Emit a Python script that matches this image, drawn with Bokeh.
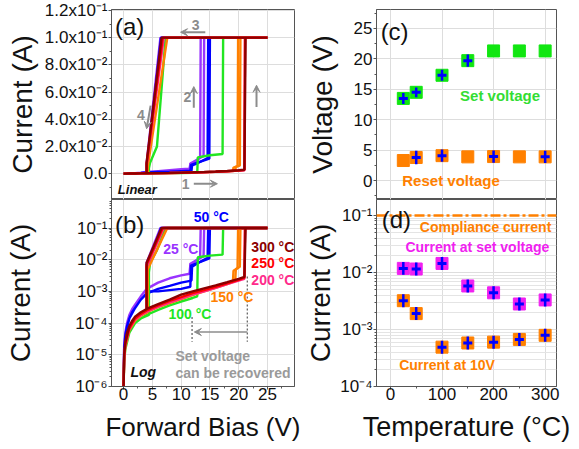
import math
from bokeh.plotting import figure
from bokeh.layouts import row, column
from bokeh.models import Range1d, FixedTicker, Label, Arrow, VeeHead, Span
from bokeh.embed import file_html
from bokeh.resources import INLINE

# ------------------------------------------------------------------ data
# I-V sweeps (forward: low state -> set -> compliance, then reverse sweep back)
V25 = [0, 0.1, 0.3, 0.6, 1.0, 1.5, 2.0, 3.0, 4.0, 6.0, 8.0, 10.0, 11.5, 11.6, 12.5, 13.3, 13.4, 25.0, 6.4, 4.0, 4.0, 3.0, 2.0, 1.0, 0.3, 0.1, 0.0]
I25 = [1e-6, 2e-5, 5e-5, 1e-4, 1.8e-4, 2.8e-4, 3.8e-4, 7e-4, 1.2e-3, 1.9e-3, 2.6e-3, 3.2e-3, 3.6e-3, 7e-3, 9e-3, 1.2e-2, 0.1, 0.1, 0.1, 8e-3, 1.2e-3, 7e-4, 3.8e-4, 1.8e-4, 5e-5, 2e-5, 1e-6]
V25b = [11.5, 11.6, 13.9, 14.0, 25.0]
I25b = [3.4e-3, 7.5e-3, 1.3e-2, 0.1, 0.1]

V50 = [0, 0.1, 0.3, 0.6, 1.0, 1.5, 2.0, 3.0, 4.0, 6.0, 8.0, 10.0, 11.8, 11.9, 13.0, 14.6, 14.7, 25.0, 6.5, 4.1, 4.1, 3.0, 2.0, 1.0, 0.3, 0.1, 0.0]
I50 = [1e-6, 1.5e-5, 4e-5, 8e-5, 1.4e-4, 2.2e-4, 3e-4, 5.5e-4, 8.5e-4, 1.2e-3, 1.5e-3, 1.9e-3, 2.2e-3, 6e-3, 8e-3, 1.15e-2, 0.1, 0.1, 0.1, 6e-3, 9e-4, 5.5e-4, 3e-4, 1.4e-4, 4e-5, 1.5e-5, 1e-6]
V50b = [4.0, 6.0, 8.0, 10.0, 11.6, 11.7, 14.9, 15.0, 25.0]
I50b = [1.0e-3, 1.0e-3, 1.1e-3, 1.2e-3, 1.4e-3, 6.5e-3, 1.1e-2, 0.1, 0.1]

V100 = [0, 0.1, 0.3, 0.6, 1.0, 1.5, 2.0, 3.0, 4.0, 6.0, 8.0, 10.0, 12.0, 12.8, 12.9, 15.0, 17.2, 17.3, 25.0, 7.3, 5.8, 4.6, 4.4, 4.4, 3.0, 2.0, 1.0, 0.3, 0.1, 0.0]
I100 = [1e-6, 6e-6, 1.5e-5, 3e-5, 5e-5, 7.5e-5, 1e-4, 1.4e-4, 1.8e-4, 2.6e-4, 3.6e-4, 4.8e-4, 6.2e-4, 7e-4, 1.2e-2, 1.35e-2, 1.45e-2, 0.1, 0.1, 0.1, 0.02, 0.008, 0.004, 1.8e-4, 1.4e-4, 1e-4, 5e-5, 1.5e-5, 6e-6, 1e-6]

V150 = [0, 0.1, 0.3, 0.6, 1.0, 1.5, 2.0, 3.0, 4.0, 6.0, 8.0, 10.0, 12.0, 14.0, 16.0, 18.0, 19.4, 19.5, 19.8, 19.9, 25.0, 7.6, 4.2, 4.2, 3.0, 2.0, 1.0, 0.3, 0.1, 0.0]
I150 = [1e-6, 7e-6, 1.8e-5, 3.6e-5, 6e-5, 9e-5, 1.2e-4, 1.7e-4, 2.2e-4, 3.2e-4, 4.3e-4, 5.7e-4, 7.6e-4, 1.0e-3, 1.3e-3, 1.7e-3, 2.1e-3, 5e-3, 5.5e-3, 0.1, 0.1, 0.1, 5e-3, 2.2e-4, 1.7e-4, 1.2e-4, 6e-5, 1.8e-5, 7e-6, 1e-6]
V150b = [19.0, 19.1, 20.2, 20.3, 25.0]
I150b = [2.0e-3, 4.5e-3, 6e-3, 0.1, 0.1]

V200 = [0, 0.1, 0.3, 0.6, 1.0, 1.5, 2.0, 3.0, 4.0, 6.0, 8.0, 10.0, 12.0, 14.0, 16.0, 18.0, 20.0, 21.0, 21.1, 25.0, 7.0, 4.0, 4.0, 3.0, 2.0, 1.0, 0.3, 0.1, 0.0]
I200 = [1e-6, 8e-6, 2e-5, 4e-5, 6.5e-5, 9.5e-5, 1.3e-4, 1.8e-4, 2.3e-4, 3.3e-4, 4.5e-4, 5.9e-4, 8e-4, 1.0e-3, 1.3e-3, 1.7e-3, 2.2e-3, 2.5e-3, 0.1, 0.1, 0.1, 6e-3, 2.3e-4, 1.8e-4, 1.3e-4, 6.5e-5, 2e-5, 8e-6, 1e-6]

V250 = [0, 0.1, 0.3, 0.6, 1.0, 1.5, 2.0, 3.0, 4.0, 6.0, 8.0, 10.0, 12.0, 14.0, 16.0, 18.0, 20.0, 21.0, 21.1, 25.0, 6.8, 4.0, 4.0, 3.0, 2.0, 1.0, 0.3, 0.1, 0.0]
I250 = [1e-6, 9e-6, 2.2e-5, 4.5e-5, 7e-5, 1.05e-4, 1.4e-4, 1.95e-4, 2.5e-4, 3.6e-4, 5e-4, 6.6e-4, 8.8e-4, 1.1e-3, 1.4e-3, 1.8e-3, 2.3e-3, 2.7e-3, 0.1, 0.1, 0.1, 7e-3, 2.5e-4, 1.95e-4, 1.4e-4, 7e-5, 2.2e-5, 9e-6, 1e-6]

V300 = [0, 0.1, 0.3, 0.6, 1.0, 1.5, 2.0, 3.0, 4.0, 6.0, 8.0, 10.0, 12.0, 14.0, 16.0, 18.0, 20.0, 21.0, 21.2, 25.0, 6.6, 4.0, 4.0, 3.0, 2.0, 1.0, 0.3, 0.1, 0.0]
I300 = [1e-6, 1e-5, 2.5e-5, 5e-5, 8e-5, 1.2e-4, 1.6e-4, 2.2e-4, 2.8e-4, 4e-4, 5.5e-4, 7.9e-4, 1.0e-3, 1.25e-3, 1.55e-3, 1.95e-3, 2.5e-3, 2.9e-3, 0.1, 0.1, 0.1, 8e-3, 2.8e-4, 2.2e-4, 1.6e-4, 8e-5, 2.5e-5, 1e-5, 1e-6]

# panel (c): set / reset voltage vs temperature
temps = [25, 50, 100, 150, 200, 250, 300]
set_voltage = [13.5, 14.5, 17.3, 19.7, 21.3, 21.3, 21.3]
reset_voltage = [3.3, 3.8, 4.1, 3.9, 3.95, 3.9, 3.9]
set_err_T = [25, 50, 100, 150]
set_err_V = [13.5, 14.5, 17.3, 19.7]
set_err = [0.9, 0.8, 0.9, 1.0]
reset_err_T = [50, 100, 200, 300]
reset_err_V = [3.8, 4.1, 3.95, 3.9]
reset_err = [1.1, 1.0, 1.0, 1.0]

# panel (d): currents vs temperature
i_set = [1.18e-2, 1.15e-2, 1.44e-2, 5.8e-3, 4.4e-3, 2.8e-3, 3.3e-3]
i_10v = [3.2e-3, 1.9e-3, 4.9e-4, 5.8e-4, 6.0e-4, 6.7e-4, 7.9e-4]
i_set_err = [0.3, 0.3, 0.3, 0.3, 0.3, 0.3, 0.3]
i_10v_err = [0.3, 0.3, 0.3, 0.3, 0.3, 0.3, 0.3]
compliance = 0.1

# ticks
bias_ticks = [0, 5, 10, 15, 20, 25]
lin_ticks = [0.0, 0.02, 0.04, 0.06, 0.08, 0.1, 0.12]
lin_labels = ["0.0", "2.0x10\u207b\u00b2", "4.0x10\u207b\u00b2", "6.0x10\u207b\u00b2",
              "8.0x10\u207b\u00b2", "1.0x10\u207b\u00b9", "1.2x10\u207b\u00b9"]
logb_ticks = [1e-6, 1e-5, 1e-4, 1e-3, 1e-2, 1e-1]
logb_labels = ["10\u207b\u2076", "10\u207b\u2075", "10\u207b\u2074", "10\u207b\u00b3", "10\u207b\u00b2", "10\u207b\u00b9"]
volt_ticks = [0, 5, 10, 15, 20, 25]
temp_ticks = [0, 100, 200, 300]
logd_ticks = [1e-4, 1e-3, 1e-2, 1e-1]
logd_labels = ["10\u207b\u2074", "10\u207b\u00b3", "10\u207b\u00b2", "10\u207b\u00b9"]

# ------------------------------------------------------------------ style
FONT = "Liberation Sans"
C25, C50, C100, C150, C200, C250, C300 = "#9933FF", "#0000FF", "#22E622", "#FF8000", "#FF2A8A", "#FF0000", "#8B0000"
GRAY = "#8C8C8C"
ORANGE = "#FF8000"
GREEN = "#11E611"
MAGENTA = "#F020F0"
BLUE = "#0000FF"
INK = "#111111"


def style(p, ylab_standoff):
    p.outline_line_color = "#555555"
    p.outline_line_width = 1
    p.background_fill_color = "white"
    p.border_fill_color = "white"
    for ax in p.axis:
        ax.axis_line_color = "#555555"
        ax.major_tick_line_color = "#555555"
        ax.minor_tick_line_color = "#555555"
        ax.major_tick_out = 3
        ax.major_tick_in = 0
        ax.minor_tick_out = 2
        ax.minor_tick_in = 0
        ax.major_label_text_font = FONT
        ax.major_label_text_font_size = "17px"
        ax.major_label_text_color = INK
        ax.major_label_standoff = 1
        ax.axis_label_text_font = FONT
        ax.axis_label_text_font_size = "28px"
        ax.axis_label_text_font_style = "normal"
        ax.axis_label_text_color = INK
    p.yaxis.axis_label_standoff = ylab_standoff
    p.grid.grid_line_color = "#DDDDDD"


def xstyle(p, size):
    p.xaxis.major_label_standoff = -2
    p.xaxis.axis_label_standoff = 9
    p.xaxis.axis_label_text_font_size = size


def lab(p, x, y, text, color, size="14px", style_="bold", align="left"):
    p.add_layout(Label(x=x, y=y, text=text, text_color=color, text_font=FONT,
                       text_font_size=size, text_font_style=style_,
                       text_baseline="middle", text_align=align))


def arrow(p, x0, y0, x1, y1, color=GRAY, w=2):
    p.add_layout(Arrow(x_start=x0, y_start=y0, x_end=x1, y_end=y1, line_color=color, line_width=w,
                       end=VeeHead(size=7, line_color=color, fill_color=color, line_width=1)))


common = dict(output_backend="svg", toolbar_location=None)

# ------------------------------------------------------------------ (a)
pa = figure(width=302, height=199, x_range=Range1d(-2.1, 29.7), y_range=Range1d(-0.019, 0.1207),
            x_axis_location=None, min_border_left=111, min_border_right=8, min_border_top=9,
            min_border_bottom=0, **common)
pa.yaxis.axis_label = "Current (A)"
pa.yaxis.ticker = FixedTicker(ticks=lin_ticks, minor_ticks=[-0.01, 0.01, 0.03, 0.05, 0.07, 0.09, 0.11])
pa.yaxis.major_label_overrides = dict(zip(lin_ticks, lin_labels))
pa.xgrid.ticker = FixedTicker(ticks=bias_ticks)
style(pa, 4)

# ------------------------------------------------------------------ (b)
pb = figure(width=302, height=249, x_range=Range1d(-2.1, 29.7), y_range=Range1d(1e-6, 10 ** -0.1),
            y_axis_type="log", min_border_left=111, min_border_right=8, min_border_top=0,
            min_border_bottom=62, **common)
pb.yaxis.axis_label = "Current (A)"
pb.xaxis.axis_label = "Forward Bias (V)"
pb.xaxis.ticker = FixedTicker(ticks=bias_ticks, minor_ticks=[2.5, 7.5, 12.5, 17.5, 22.5, 27.5])
pb.yaxis.ticker = FixedTicker(ticks=logb_ticks,
                              minor_ticks=[m * 10 ** e for e in range(-6, 0) for m in range(2, 10)])
pb.yaxis.major_label_overrides = dict(zip(logb_ticks, logb_labels))
style(pb, 36)
xstyle(pb, "26px")

curves = [(V25, I25, C25), (V25b, I25b, C25), (V50, I50, C50), (V50b, I50b, C50),
          (V100, I100, C100), (V150, I150, C150), (V150b, I150b, C150),
          (V200, I200, C200), (V250, I250, C250), (V300, I300, C300)]
for V, I, c in curves:
    pa.line(V, I, line_color=c, line_width=2.4)
    pb.line(V, I, line_color=c, line_width=2.4)

# annotations (a)
lab(pa, -1.5, 0.108, "(a)", INK, size="24px", style_="normal")
lab(pa, 12.5, 0.1096, "3", GRAY, align="center")
arrow(pa, 14.2, 0.104, 9.9, 0.104)
lab(pa, 11.1, 0.056, "2", GRAY, align="center")
arrow(pa, 12.2, 0.0485, 12.2, 0.064)
arrow(pa, 23.1, 0.049, 23.1, 0.065)
lab(pa, 3.0, 0.043, "4", GRAY, align="center")
arrow(pa, 4.7, 0.05, 4.0, 0.033)
lab(pa, 10.8, -0.0074, "1", GRAY, align="center")
arrow(pa, 12.2, -0.0074, 16.3, -0.0074)
lab(pa, -1.0, -0.0118, "Linear", INK, size="13px", style_="bold italic")

# annotations (b)
lab(pb, -1.5, 10 ** -0.88, "(b)", INK, size="24px", style_="normal")
lab(pb, 12.2, 10 ** -0.66, "50 \u00b0C", C50)
lab(pb, 6.9, 10 ** -1.66, "25 \u00b0C", C25)
lab(pb, 22.2, 10 ** -1.59, "300 \u00b0C", C300)
lab(pb, 22.2, 10 ** -2.09, "250 \u00b0C", C250)
lab(pb, 22.2, 10 ** -2.63, "200 \u00b0C", C200)
lab(pb, 15.1, 10 ** -3.19, "150 \u00b0C", C150)
lab(pb, 7.8, 10 ** -3.72, "100 \u00b0C", C100)
pb.segment(x0=[11.9, 21.5], y0=[10 ** -3.81, 10 ** -2.53], x1=[11.9, 21.5], y1=[10 ** -4.59, 10 ** -4.59],
           line_color="#666666", line_width=1.3, line_dash="2 2")
arrow(pb, 21.5, 10 ** -4.28, 12.3, 10 ** -4.28, w=1.6)
lab(pb, 9.0, 10 ** -5.03, "Set voltage", "#9A9A9A")
lab(pb, 9.0, 10 ** -5.56, "can be recovered", "#9A9A9A")
lab(pb, 1.2, 10 ** -5.53, "Log", INK, size="14px", style_="bold italic")

# ------------------------------------------------------------------ (c)
pc = figure(width=277, height=199, x_range=Range1d(-27, 322), y_range=Range1d(-3.1, 28.1),
            x_axis_location=None, min_border_left=71, min_border_right=23, min_border_top=9,
            min_border_bottom=0, **common)
pc.yaxis.axis_label = "Voltage (V)"
pc.yaxis.ticker = FixedTicker(ticks=volt_ticks, minor_ticks=[-2.5, 2.5, 7.5, 12.5, 17.5, 22.5, 27.5])
pc.xgrid.ticker = FixedTicker(ticks=temp_ticks)
style(pc, 13)

pc.scatter(temps, set_voltage, marker="square", size=12, fill_color=GREEN, line_color=GREEN)
pc.scatter(temps, reset_voltage, marker="square", size=12, fill_color=ORANGE, line_color=ORANGE)
pc.segment(x0=set_err_T, x1=set_err_T, y0=[v - e for v, e in zip(set_err_V, set_err)],
           y1=[v + e for v, e in zip(set_err_V, set_err)], line_color=BLUE, line_width=2.5)
pc.scatter(set_err_T, set_err_V, marker="dash", size=9, line_color=BLUE, line_width=3)
pc.segment(x0=reset_err_T, x1=reset_err_T, y0=[v - e for v, e in zip(reset_err_V, reset_err)],
           y1=[v + e for v, e in zip(reset_err_V, reset_err)], line_color=BLUE, line_width=2.5)
pc.scatter(reset_err_T, reset_err_V, marker="dash", size=9, line_color=BLUE, line_width=3)

lab(pc, -19, 24.5, "(c)", INK, size="24px", style_="normal")
lab(pc, 135, 14.0, "Set voltage", "#33DD33", size="15px")
lab(pc, 23, 0.0, "Reset voltage", ORANGE, size="15px")

# ------------------------------------------------------------------ (d)
pd = figure(width=277, height=249, x_range=Range1d(-27, 322), y_range=Range1d(1e-4, 10 ** -0.72),
            y_axis_type="log", min_border_left=71, min_border_right=23, min_border_top=0,
            min_border_bottom=62, **common)
pd.yaxis.axis_label = "Current (A)"
pd.xaxis.axis_label = "Temperature (\u00b0C)"
pd.xaxis.ticker = FixedTicker(ticks=temp_ticks, minor_ticks=[-50, 50, 150, 250])
pd.yaxis.ticker = FixedTicker(ticks=logd_ticks,
                              minor_ticks=[m * 10 ** e for e in range(-4, 0) for m in range(2, 10)])
pd.yaxis.major_label_overrides = dict(zip(logd_ticks, logd_labels))
style(pd, 1)
xstyle(pd, "27px")
pd.ygrid.minor_grid_line_color = "#E4E4E4"

pd.add_layout(Span(location=compliance, dimension="width", line_color=ORANGE, line_width=2.5,
                   line_dash="10 3 3 3"))
pd.scatter(temps, i_set, marker="square", size=12, fill_color=MAGENTA, line_color=MAGENTA)
pd.scatter(temps, i_10v, marker="square", size=12, fill_color=ORANGE, line_color=ORANGE)
for vals, errs in ((i_set, i_set_err), (i_10v, i_10v_err)):
    pd.segment(x0=temps, x1=temps, y0=[v / (1 + e) for v, e in zip(vals, errs)],
               y1=[v * (1 + e) for v, e in zip(vals, errs)], line_color=BLUE, line_width=2.5)
    pd.scatter(temps, vals, marker="dash", size=9, line_color=BLUE, line_width=3)

lab(pd, -17, 10 ** -1.07, "(d)", INK, size="24px", style_="normal")
lab(pd, 57, 10 ** -1.21, "Compliance current", ORANGE)
lab(pd, 29, 10 ** -1.56, "Current at set voltage", MAGENTA)
lab(pd, 17, 10 ** -3.63, "Current at 10V", ORANGE)

layout = row(column(pa, pb), column(pc, pd))
open("out.html", "w").write(file_html(layout, INLINE))
